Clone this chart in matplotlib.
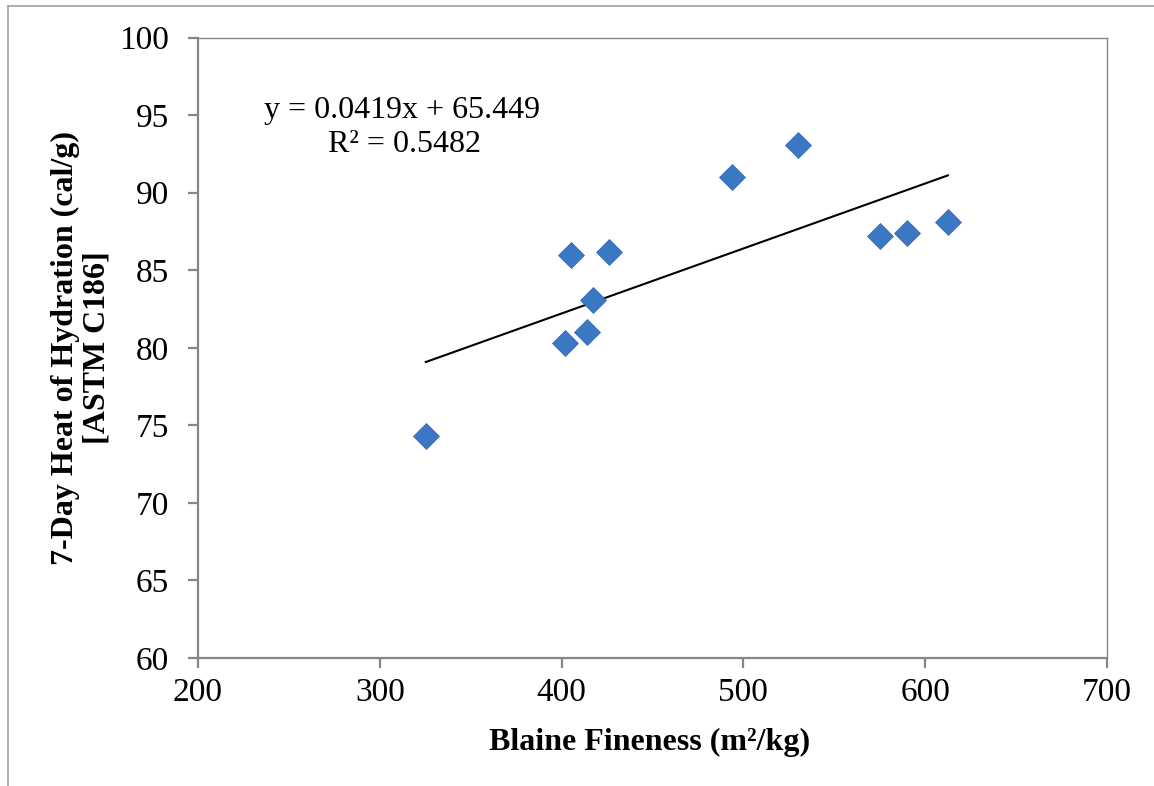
import matplotlib.pyplot as plt
from matplotlib.lines import Line2D

# Datos
blaine = [325.3, 401.9, 405.1, 413.9, 417.0, 426.3, 494.0, 530.3, 575.3, 589.9, 612.5]
heat7 = [74.3, 80.3, 86.0, 81.0, 83.1, 86.2, 91.0, 93.1, 87.2, 87.4, 88.1]
slope = 0.0419
intercept = 65.449
r2 = 0.5482

plt.rcParams['font.family'] = ['Liberation Serif', 'DejaVu Serif']

W, H = 1154, 786
fig = plt.figure(figsize=(W/100, H/100), dpi=100)
ax = fig.add_axes([198/W, 1 - 658/H, (1107 - 198)/W, (658 - 37.5)/H])

# marco exterior (recortado)
fig.add_artist(Line2D([8/W, 1], [1 - 6/H, 1 - 6/H], transform=fig.transFigure,
                      color='#a0a0a0', lw=1.2))
fig.add_artist(Line2D([8/W, 8/W], [0, 1 - 6/H], transform=fig.transFigure,
                      color='#a0a0a0', lw=1.2))

# línea de tendencia
xt = [min(blaine), max(blaine)]
yt = [slope*x + intercept for x in xt]
ax.plot(xt, yt, color='black', lw=1.5, zorder=2)

ax.plot(blaine, heat7, linestyle='none', marker='D', markersize=13,
        color='#3b78c4', markeredgecolor='#2f66ad', markeredgewidth=0.5, zorder=3)

ax.set_xlim(200, 700)
ax.set_ylim(60, 100)
ax.set_xticks(range(200, 701, 100))
ax.set_yticks(range(60, 101, 5))

for side in ['left', 'bottom']:
    ax.spines[side].set_color('#868686')
    ax.spines[side].set_linewidth(1.6)
for side in ['top', 'right']:
    ax.spines[side].set_color('#8a8a8a')
    ax.spines[side].set_linewidth(1.0)

ax.tick_params(axis='both', direction='out', length=7, width=1.6, color='#868686',
               labelsize=24)
ax.tick_params(axis='y', pad=14)
ax.tick_params(axis='x', pad=7)

fig.text(650/W, 1 - 750/H, 'Blaine Fineness (m²/kg)', fontsize=23, fontweight='bold',
         ha='center', va='baseline')
fig.text(81/W, 1 - 348/H, '7-Day Heat of Hydration (cal/g)\n[ASTM C186]', fontsize=23,
         fontweight='bold', rotation=90, ha='center', va='center', linespacing=1.1,
         multialignment='center')

fig.text(402/W, 1 - 118/H, f'y = {slope}x + {intercept}', fontsize=23,
         ha='center', va='baseline')
fig.text(404/W, 1 - 152/H, f'R² = {r2}', fontsize=23, ha='center', va='baseline')

fig.savefig('out.png', dpi=100)
